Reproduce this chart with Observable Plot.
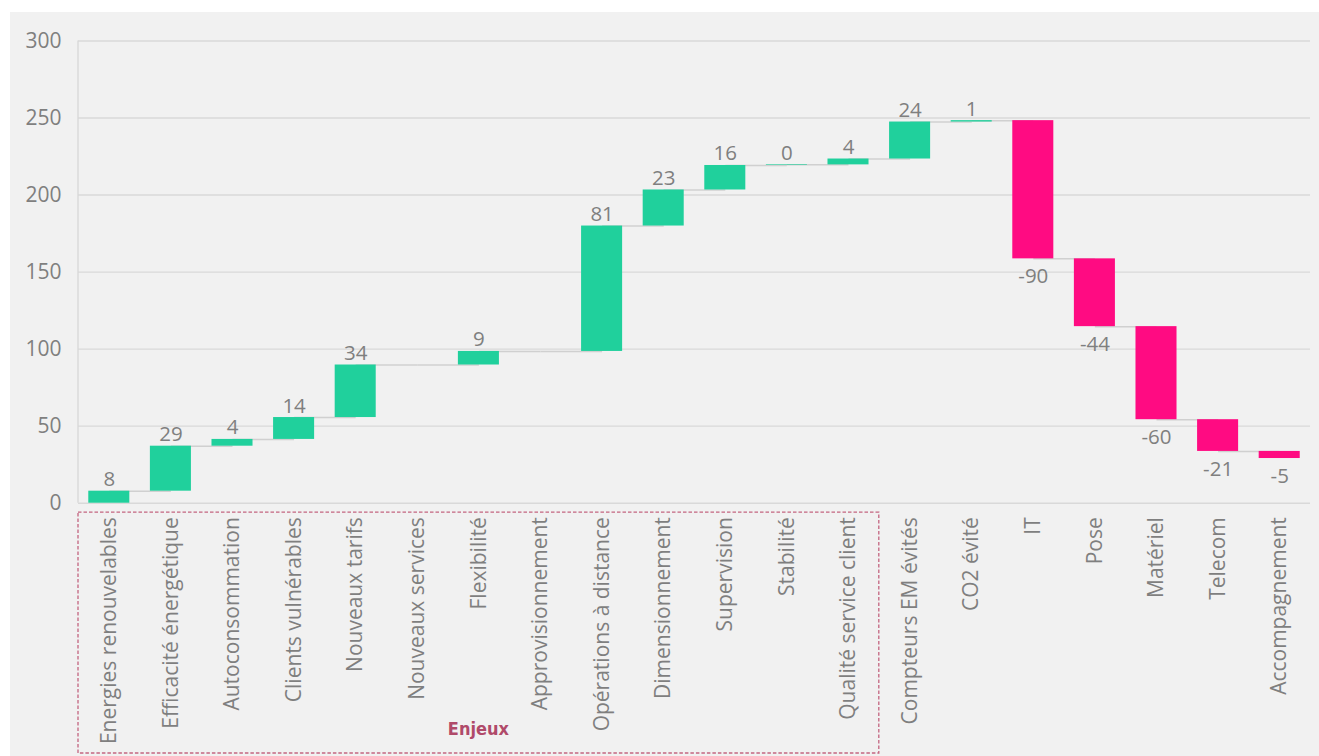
<!DOCTYPE html>
<html><head><meta charset="utf-8">
<script src="https://cdn.jsdelivr.net/npm/d3@7"></script>
<script src="https://cdn.jsdelivr.net/npm/@observablehq/plot@0.6"></script>
<style>
html,body{margin:0;padding:0;background:#fff;}
#chart{position:absolute;left:10px;top:12px;width:1309px;height:744px;background:#f1f1f1;}
</style></head><body><div id="chart"></div>
<script>
const categories = ["Energies renouvelables","Efficacité énergétique","Autoconsommation","Clients vulnérables","Nouveaux tarifs","Nouveaux services","Flexibilité","Approvisionnement","Opérations à distance","Dimensionnement","Supervision","Stabilité","Qualité service client","Compteurs EM évités","CO2 évité","IT","Pose","Matériel","Telecom","Accompagnement"];
const values = [7.8, 29.2, 4.4, 14.2, 34.1, 0, 8.8, 0, 81.4, 23.4, 15.9, 0.4, 3.8, 24.0, 0.9, -89.7, -44.0, -60.4, -20.6, -4.6];
const labels = ["8","29","4","14","34","","9","","81","23","16","0","4","24","1","-90","-44","-60","-21","-5"];
const yTicks = [0, 50, 100, 150, 200, 250, 300];
const groupName = "Enjeux";
const groupSize = 13;

const GREEN = "#20d09c", PINK = "#ff0b82", TEXT = "#7f7f7f", GRID = "#d9d9d9";

let acc = 0;
const data = categories.map((c, i) => {
  const start = acc; acc += values[i];
  return {cat: c, start, end: acc, value: values[i], label: labels[i], next: categories[i + 1]};
});

const W = 1309, H = 744, ML = 68, MR = 9, MT = 28.5, MB = 253.3;

const plot = Plot.plot({
  width: W, height: H, marginLeft: ML, marginRight: MR, marginTop: MT, marginBottom: MB,
  style: {background: "transparent", fontFamily: "'Open Sans', sans-serif", fontSize: "21px", color: TEXT, overflow: "visible"},
  x: {domain: categories, paddingInner: 0.334, paddingOuter: 0.167, round: false},
  y: {domain: [0, 300]},
  color: {type: "identity"},
  marks: [
    Plot.ruleY(yTicks, {stroke: GRID, strokeWidth: 1.4}),
    Plot.axisY({ticks: yTicks, tickSize: 0, tickPadding: 17, label: null, fontSize: 21, fill: TEXT}),
    Plot.axisX({tickRotate: -90, tickSize: 0, tickPadding: 14, label: null, fontSize: 21, fill: TEXT}),
    Plot.link(data.filter(d => d.next), {x1: "cat", x2: "next", y1: "end", y2: "end", stroke: "#d0d0d0", strokeWidth: 1.5}),
    Plot.barY(data, {x: "cat", y1: "start", y2: "end", fill: d => d.value >= 0 ? GREEN : PINK}),
    Plot.text(data.filter(d => d.value >= 0 && d.label), {x: "cat", y: "end", text: "label", lineAnchor: "bottom", dy: -5, fill: TEXT, fontSize: 20.5}),
    Plot.text(data.filter(d => d.value < 0 && d.label), {x: "cat", y: "end", text: "label", lineAnchor: "top", dy: 10, fill: TEXT, fontSize: 20.5})
  ]
});
document.getElementById("chart").appendChild(plot);

// left axis line & group box, positioned through the plot's own scales
const xs = plot.scale("x"), ys = plot.scale("y");
const svg = d3.select(plot);
svg.append("line")
  .attr("x1", ML).attr("x2", ML)
  .attr("y1", ys.apply(300)).attr("y2", ys.apply(0))
  .attr("stroke", GRID).attr("stroke-width", 1.4);

const step = xs.apply(categories[1]) - xs.apply(categories[0]);
const bw = xs.bandwidth;
const gap = (step - bw) / 2;
const bx0 = xs.apply(categories[0]) - gap;
const bx1 = xs.apply(categories[groupSize - 1]) + bw + gap;
const by0 = ys.apply(0) + 9.5, by1 = H - 3;
svg.append("rect")
  .attr("x", bx0).attr("y", by0).attr("width", bx1 - bx0).attr("height", by1 - by0)
  .attr("fill", "none").attr("stroke", "#c46580").attr("stroke-width", 1.3).attr("stroke-dasharray", "3.5,2");
svg.append("text")
  .attr("x", (bx0 + bx1) / 2).attr("y", H - 21)
  .attr("text-anchor", "middle")
  .attr("font-family", "'Liberation Sans Narrow','DejaVu Sans Condensed',sans-serif")
  .attr("font-weight", "bold").attr("font-size", 18).attr("fill", "#b04a6a")
  .text(groupName);
</script></body></html>
